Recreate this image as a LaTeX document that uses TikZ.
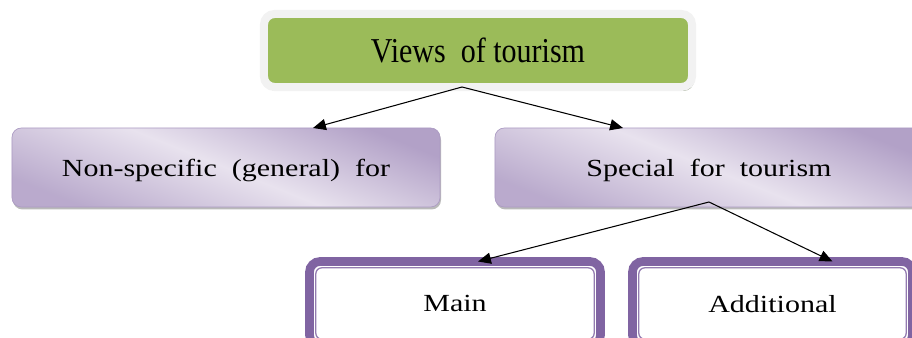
\documentclass[tikz,border=0pt]{standalone}
\usepackage{fontspec}
\setmainfont{Liberation Serif}
\newfontfamily\viewsfont[FakeStretch=0.86]{Liberation Serif}
\newfontfamily\kindfont[FakeStretch=1.22]{Liberation Serif}
\usepackage{tikz}
\usetikzlibrary{arrows.meta,positioning,shadows,calc}

\begin{document}
\begin{tikzpicture}[x=0.03cm,y=-0.03cm,
  conn/.style={-{Triangle[length=11pt,width=9.5pt]},line width=0.9pt},
  viewbox/.style={fill=leaf,draw=frame,line width=0.24cm,rounded corners=9pt,
    minimum width=12.84cm,minimum height=2.19cm,inner sep=0pt,outer sep=0pt,
    font=\viewsfont\fontsize{29.8pt}{34pt}\selectfont,text depth=0pt,
    drop shadow={shadow xshift=1.7pt,shadow yshift=-3.4pt,fill=leafshade,opacity=1}},
  kindbox/.style={rounded corners=8pt,draw=lilacedge,line width=0.6pt,
    top color=lilacdark,bottom color=lilacdark!90,middle color=lilaclight,shading angle=-22,
    minimum width=12.84cm,minimum height=2.37cm,inner sep=0pt,outer sep=0pt,
    font=\kindfont\fontsize{21pt}{25pt}\selectfont,text depth=0pt,
    drop shadow={shadow xshift=0.85pt,shadow yshift=-2.1pt,fill=black!45,opacity=.6}},
  partbox/.style={rounded corners=9pt,draw=plum,line width=0.26cm,fill=white,
    minimum width=8.73cm,minimum height=2.52cm,inner sep=0pt,outer sep=0pt,
    font=\kindfont\fontsize{21pt}{25pt}\selectfont,text depth=0pt},
  partline/.style={draw=plum!85,line width=1.1pt,rounded corners=5pt}]
% Define scheme colours
\definecolor{leaf}{HTML}{9BBB59}
\definecolor{frame}{HTML}{F2F2F2}
\definecolor{leafshade}{HTML}{A3AD96}
\definecolor{lilaclight}{HTML}{E8E2EE}
\definecolor{lilacdark}{HTML}{B2A1C7}
\definecolor{lilacedge}{HTML}{AC9BC3}
\definecolor{plum}{HTML}{8064A2}

\clip (0,0) rectangle (912,338);

% Top level
\node[viewbox] (views) at (478,50.5) {Views~ of tourism};

% Second level
\node[kindbox] (nonspec) at (226,167.5) {Non-specific~ (general)~ for};
\node[kindbox] (special) at (709,167.5) {Special~ for~ tourism};

% Third level
\node[partbox] (main) at (455,303.5) {Main};
\draw[partline] ($(main.south west)+(0.19cm,0.19cm)$) rectangle ($(main.north east)+(-0.19cm,-0.19cm)$);
\node[partbox,minimum width=8.4cm] (additional) at (772.5,303.5) {Additional};
\draw[partline] ($(additional.south west)+(0.19cm,0.19cm)$) rectangle ($(additional.north east)+(-0.19cm,-0.19cm)$);

% Connectors
\coordinate (fork) at ([xshift=-0.48cm]views.south);
\draw[conn] (fork) -- ([xshift=2.61cm]nonspec.north);
\draw[conn] (fork) -- ([xshift=-2.58cm]special.north);
\coordinate (split) at ([yshift=0.15cm]special.south);
\draw[conn] (split) -- ([xshift=0.69cm]main.north);
\draw[conn] (split) -- ([xshift=1.8cm]additional.north);
\end{tikzpicture}
\end{document}
